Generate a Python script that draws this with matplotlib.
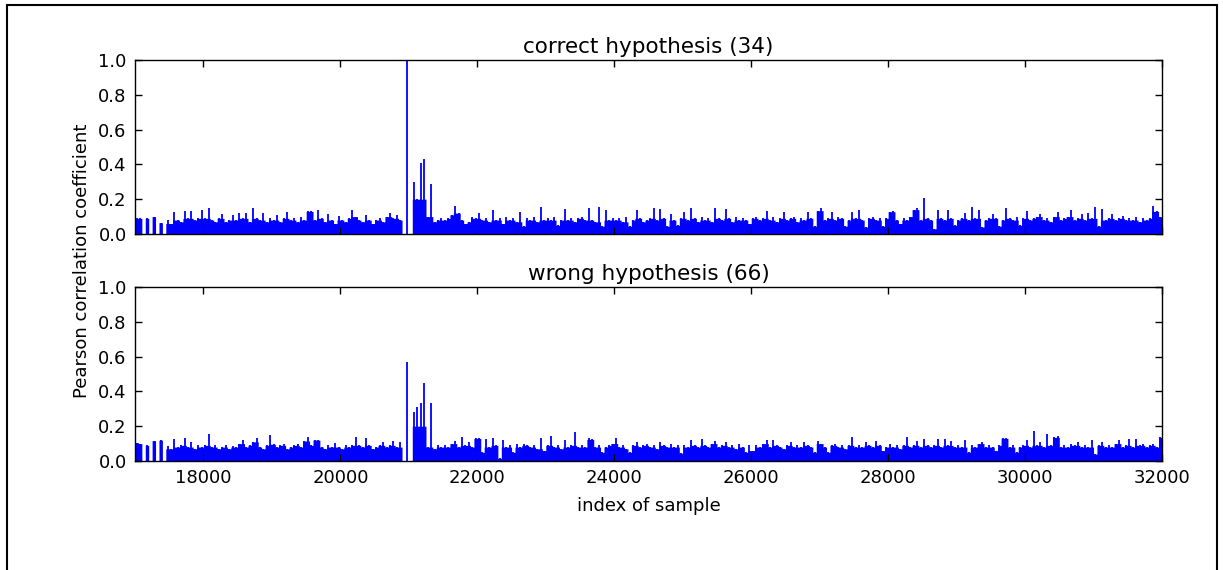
import numpy as np
import matplotlib
matplotlib.use("Agg")
import matplotlib.pyplot as plt
from matplotlib.patches import Rectangle

# Sample window and binning of the correlation traces (bin maxima, 50 samples per bin)
sample_start = 17000
sample_stop = 32000
bin_width = 50

# |Pearson r| per bin for the correct key hypothesis (34)
corr_correct = [
    0.09, 0.09, 0.00, 0.09, 0.00, 0.10, 0.00, 0.065, 0.00, 0.08,
    0.06, 0.125, 0.08, 0.07, 0.13, 0.09, 0.13, 0.08, 0.09, 0.14,
    0.09, 0.15, 0.08, 0.07, 0.09, 0.115, 0.07, 0.08, 0.11, 0.08,
    0.12, 0.09, 0.12, 0.07, 0.15, 0.09, 0.08, 0.12, 0.07, 0.09,
    0.08, 0.11, 0.07, 0.09, 0.125, 0.08, 0.09, 0.07, 0.10, 0.08,
    0.13, 0.13, 0.08, 0.14, 0.09, 0.07, 0.115, 0.08, 0.06, 0.105,
    0.08, 0.07, 0.09, 0.14, 0.10, 0.08, 0.07, 0.11, 0.08, 0.06,
    0.08, 0.09, 0.07, 0.10, 0.12, 0.09, 0.11, 0.08, 0.00, 1.00,
    0.00, 0.30, 0.20, 0.41, 0.43, 0.10, 0.29, 0.07, 0.08, 0.09,
    0.08, 0.09, 0.11, 0.163, 0.12, 0.08, 0.06, 0.07, 0.10, 0.09,
    0.12, 0.08, 0.09, 0.07, 0.136, 0.08, 0.09, 0.06, 0.10, 0.08,
    0.09, 0.07, 0.128, 0.045, 0.09, 0.08, 0.10, 0.07, 0.155, 0.08,
    0.09, 0.08, 0.10, 0.05, 0.08, 0.144, 0.08, 0.09, 0.07, 0.09,
    0.10, 0.08, 0.15, 0.08, 0.07, 0.155, 0.045, 0.14, 0.08, 0.09,
    0.08, 0.09, 0.07, 0.10, 0.045, 0.08, 0.14, 0.09, 0.07, 0.08,
    0.09, 0.148, 0.08, 0.142, 0.09, 0.045, 0.113, 0.08, 0.05, 0.09,
    0.128, 0.08, 0.148, 0.09, 0.07, 0.10, 0.08, 0.09, 0.07, 0.15,
    0.09, 0.08, 0.142, 0.09, 0.07, 0.10, 0.08, 0.09, 0.08, 0.06,
    0.09, 0.10, 0.08, 0.09, 0.132, 0.08, 0.10, 0.07, 0.09, 0.128,
    0.08, 0.09, 0.10, 0.07, 0.09, 0.08, 0.125, 0.09, 0.045, 0.134,
    0.15, 0.08, 0.09, 0.125, 0.08, 0.10, 0.09, 0.045, 0.08, 0.125,
    0.09, 0.14, 0.08, 0.04, 0.09, 0.10, 0.08, 0.09, 0.045, 0.09,
    0.128, 0.13, 0.08, 0.06, 0.09, 0.08, 0.10, 0.14, 0.147, 0.08,
    0.207, 0.09, 0.08, 0.03, 0.136, 0.09, 0.08, 0.14, 0.09, 0.05,
    0.08, 0.09, 0.119, 0.08, 0.157, 0.09, 0.136, 0.04, 0.08, 0.09,
    0.113, 0.09, 0.045, 0.08, 0.15, 0.09, 0.08, 0.10, 0.05, 0.09,
    0.13, 0.08, 0.09, 0.10, 0.113, 0.08, 0.09, 0.07, 0.10, 0.125,
    0.08, 0.09, 0.10, 0.14, 0.08, 0.09, 0.115, 0.08, 0.119, 0.09,
    0.155, 0.045, 0.142, 0.08, 0.09, 0.115, 0.08, 0.09, 0.105, 0.08,
    0.09, 0.08, 0.10, 0.07, 0.092, 0.08, 0.09, 0.16, 0.13, 0.10,
]

# |Pearson r| per bin for a wrong key hypothesis (66)
corr_wrong = [
    0.105, 0.10, 0.00, 0.09, 0.00, 0.117, 0.00, 0.12, 0.00, 0.088,
    0.07, 0.125, 0.08, 0.09, 0.13, 0.08, 0.11, 0.07, 0.09, 0.08,
    0.09, 0.153, 0.08, 0.092, 0.07, 0.08, 0.09, 0.07, 0.084, 0.08,
    0.10, 0.12, 0.08, 0.09, 0.11, 0.134, 0.08, 0.07, 0.09, 0.15,
    0.096, 0.08, 0.09, 0.10, 0.07, 0.08, 0.09, 0.10, 0.08, 0.115,
    0.14, 0.09, 0.12, 0.12, 0.08, 0.07, 0.09, 0.08, 0.105, 0.08,
    0.07, 0.09, 0.08, 0.09, 0.138, 0.09, 0.08, 0.13, 0.09, 0.07,
    0.08, 0.09, 0.107, 0.08, 0.09, 0.117, 0.08, 0.11, 0.00, 0.567,
    0.00, 0.28, 0.31, 0.335, 0.45, 0.08, 0.335, 0.07, 0.09, 0.08,
    0.09, 0.08, 0.10, 0.115, 0.08, 0.136, 0.09, 0.11, 0.08, 0.13,
    0.13, 0.05, 0.126, 0.08, 0.13, 0.09, 0.015, 0.123, 0.08, 0.09,
    0.05, 0.10, 0.08, 0.10, 0.09, 0.08, 0.09, 0.07, 0.13, 0.06,
    0.09, 0.142, 0.08, 0.09, 0.07, 0.121, 0.08, 0.09, 0.167, 0.08,
    0.09, 0.08, 0.13, 0.124, 0.08, 0.09, 0.05, 0.08, 0.09, 0.10,
    0.13, 0.08, 0.09, 0.07, 0.05, 0.09, 0.11, 0.08, 0.09, 0.10,
    0.08, 0.09, 0.07, 0.11, 0.09, 0.08, 0.10, 0.08, 0.09, 0.045,
    0.09, 0.08, 0.123, 0.09, 0.08, 0.126, 0.09, 0.08, 0.10, 0.117,
    0.08, 0.09, 0.11, 0.08, 0.09, 0.07, 0.10, 0.08, 0.05, 0.09,
    0.06, 0.09, 0.08, 0.10, 0.121, 0.08, 0.121, 0.09, 0.08, 0.07,
    0.09, 0.11, 0.08, 0.09, 0.08, 0.11, 0.09, 0.08, 0.05, 0.117,
    0.10, 0.08, 0.05, 0.09, 0.10, 0.08, 0.09, 0.07, 0.09, 0.138,
    0.08, 0.09, 0.08, 0.11, 0.09, 0.08, 0.115, 0.09, 0.06, 0.08,
    0.10, 0.08, 0.09, 0.07, 0.09, 0.138, 0.08, 0.09, 0.117, 0.08,
    0.126, 0.09, 0.08, 0.09, 0.128, 0.08, 0.124, 0.09, 0.117, 0.08,
    0.09, 0.08, 0.123, 0.05, 0.09, 0.08, 0.10, 0.11, 0.08, 0.09,
    0.08, 0.06, 0.09, 0.13, 0.13, 0.08, 0.09, 0.05, 0.08, 0.09,
    0.123, 0.08, 0.174, 0.09, 0.11, 0.08, 0.153, 0.09, 0.136, 0.142,
    0.08, 0.09, 0.08, 0.10, 0.09, 0.11, 0.08, 0.09, 0.08, 0.119,
    0.04, 0.09, 0.11, 0.08, 0.09, 0.08, 0.10, 0.121, 0.08, 0.09,
    0.126, 0.08, 0.126, 0.09, 0.10, 0.08, 0.09, 0.096, 0.08, 0.136,
]

titles = ["correct hypothesis (34)", "wrong hypothesis (66)"]
x_ticks = [18000, 20000, 22000, 24000, 26000, 28000, 30000, 32000]
y_ticks = [0.0, 0.2, 0.4, 0.6, 0.8, 1.0]

edges = np.arange(sample_start, sample_stop + bin_width, bin_width)
centres = edges[:-1] + bin_width / 2

W, H = 1223, 570
fig = plt.figure(figsize=(W / 100, H / 100), dpi=100, facecolor="white")

# axes boxes in pixels: left, top, right, bottom
boxes = [(135, 60, 1162, 234), (135, 287, 1162, 461)]
axes = []
for (l, t, r, b) in boxes:
    ax = fig.add_axes([l / W, 1 - b / H, (r - l) / W, (b - t) / H])
    axes.append(ax)


def solid_floor(v, noise_level=0.2):
    """Level reached by runs of neighbouring bins (morphological opening).

    Noise-level bins enclosed by empty bins are kept whole, so short
    segments between gaps stay solid; peaks above the noise level are
    left to the thin strokes."""
    prev = np.r_[v[0], v[:-1]]
    nxt = np.r_[v[1:], v[-1]]
    floor = np.maximum(np.minimum(v, prev), np.minimum(v, nxt))
    enclosed = (prev == 0) & (nxt == 0) & (v < noise_level)
    floor[enclosed] = v[enclosed]
    return np.minimum(floor, noise_level)


for ax, series, title in zip(axes, [corr_correct, corr_wrong], titles):
    vals = np.asarray(series, dtype=float)
    floor = solid_floor(vals)
    # dense body of the trace
    ax.fill_between(edges, 0, np.append(floor, floor[-1]), step="post",
                    color="#0000ff", linewidth=0)
    # each bin maximum as a thin vertical stroke
    ax.vlines(centres, 0, vals, color="#0000ff", linewidth=1.3)
    ax.set_xlim(sample_start, sample_stop)
    ax.set_ylim(0, 1.0)
    ax.set_yticks(y_ticks)
    ax.set_yticklabels([f"{v:.1f}" for v in y_ticks])
    ax.set_xticks(x_ticks)
    ax.tick_params(direction="in", top=True, right=True, length=5, width=1,
                   labelsize=13, pad=6)
    ax.set_title(title, fontsize=15.5, pad=5)
    for sp in ax.spines.values():
        sp.set_linewidth(1.0)

axes[0].tick_params(labelbottom=False)
axes[1].set_xticklabels([str(v) for v in x_ticks])
axes[1].set_xlabel("index of sample", fontsize=13, labelpad=7)

fig.text(82 / W, 1 - 261 / H, "Pearson correlation coefficient", rotation=90,
         ha="center", va="center", fontsize=13)

# frame around the figure
fig.add_artist(Rectangle((7 / W, -0.05), (1217 - 7) / W, 1 - 5 / H + 0.05,
                         transform=fig.transFigure, fill=False,
                         edgecolor="black", linewidth=1.5))

fig.savefig("out.png", dpi=100, facecolor="white")
